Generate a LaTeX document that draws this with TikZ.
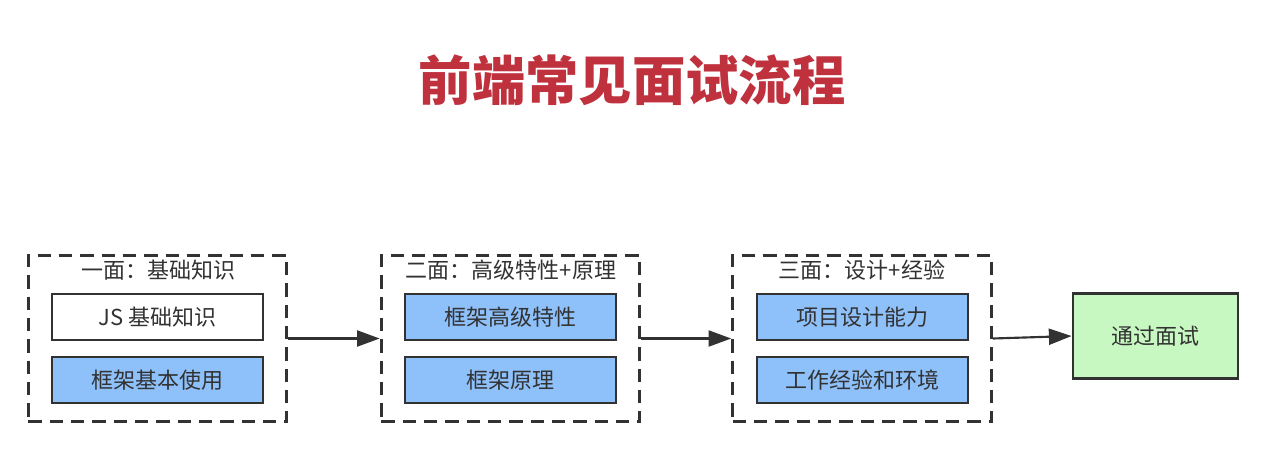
\documentclass[tikz,border=0pt]{standalone}
\usepackage{fontspec}
\setmainfont{Noto Sans CJK SC}
\usepackage{tikz}
\usetikzlibrary{arrows.meta,positioning}

\definecolor{titlered}{RGB}{192,49,62}
\definecolor{itemblue}{RGB}{142,192,250}
\definecolor{passgreen}{RGB}{200,248,194}
\definecolor{edgegray}{RGB}{50,50,50}

\begin{document}
\begin{tikzpicture}[x=0.75pt, y=-0.75pt,
  round/.style={draw=edgegray, line width=2.2pt, dash pattern=on 10pt off 6pt,
    minimum width=194pt, minimum height=125pt, inner sep=0pt},
  roundname/.style={font=\fontsize{16.5}{19}\selectfont, text=edgegray, inner sep=0pt},
  item/.style={draw=edgegray, line width=1.9pt, fill=itemblue,
    minimum width=158pt, minimum height=34.5pt, inner sep=0pt,
    font=\fontsize{16.5}{19}\selectfont, text=edgegray},
  flow/.style={draw=edgegray, line width=1.6pt, -{Triangle[length=17pt,width=12pt]}}]

\useasboundingbox[fill=white] (0,0) rectangle (1277,458);

\node[font=\bfseries\fontsize{40}{46}\selectfont, text=titlered] (title) at (632,80) {前端常见面试流程};

% first round
\node[round] (r1) at (157.5,338.5) {};
\node[roundname] (r1name) at (158,270) {一面：基础知识};
\node[item, fill=white] (js) at (157.5,317) {JS 基础知识};
\node[item] (use) at (157.5,380) {框架基本使用};

% second round
\node[round] (r2) at (510.5,338.5) {};
\node[roundname] (r2name) at (511,270) {二面：高级特性+原理};
\node[item] (adv) at (510.5,317) {框架高级特性};
\node[item] (prin) at (510.5,380) {框架原理};

% third round
\node[round] (r3) at (862,338.5) {};
\node[roundname] (r3name) at (862,270) {三面：设计+经验};
\node[item] (design) at (862.5,317) {项目设计能力};
\node[item] (work) at (862.5,380) {工作经验和环境};

% result
\node[item, fill=passgreen, minimum width=124pt, minimum height=64pt] (pass) at (1155.5,336) {通过面试};

\draw[flow] (r1.east) -- (r2.west);
\draw[flow] (r2.east) -- (r3.west);
\draw[flow] (r3.east) -- (pass.west);

\end{tikzpicture}
\end{document}
